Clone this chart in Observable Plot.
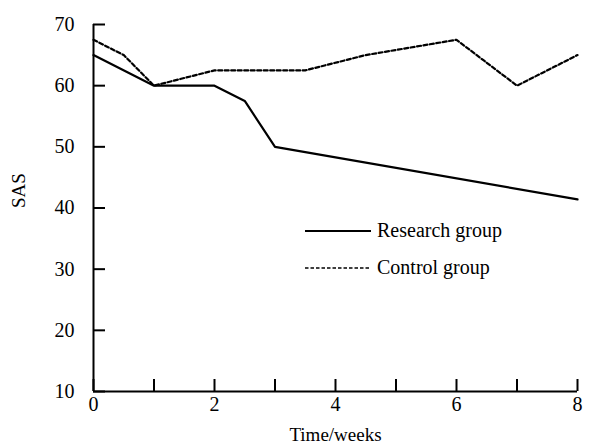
<!DOCTYPE html>
<html>
<head>
<meta charset="utf-8">
<script src="https://cdn.jsdelivr.net/npm/d3@7"></script>
<script src="https://cdn.jsdelivr.net/npm/@observablehq/plot@0.6"></script>
<style>
  html, body { margin: 0; padding: 0; background: #fff; }
  #wrap { position: relative; width: 595px; height: 446px; font-family: "Liberation Serif", serif; }
  #legend { position: absolute; left: 305px; top: 212px; font-size: 20px; color: #000; }
  .row { display: flex; align-items: center; height: 37px; }
  .row svg { width: 66px; height: 10px; margin-right: 6px; }
</style>
</head>
<body>
<div id="wrap">
  <div id="chart"></div>
  <div id="legend"></div>
</div>
<script>
const weeksResearch = [0, 1, 2, 2.5, 3, 8];
const sasResearch   = [65, 60, 60, 57.5, 50, 41.4];
const weeksControl  = [0, 0.5, 1, 2, 3.5, 4.5, 6, 7, 8];
const sasControl    = [67.5, 65, 60, 62.5, 62.5, 65, 67.5, 60, 65];
const xTicks = [0, 1, 2, 3, 4, 5, 6, 7, 8];
const xLabels = [0, 2, 4, 6, 8];
const yTicks = [10, 20, 30, 40, 50, 60, 70];
const seriesNames = ["Research group", "Control group"];

const research = weeksResearch.map((w, i) => ({week: w, sas: sasResearch[i]}));
const control = weeksControl.map((w, i) => ({week: w, sas: sasControl[i]}));

const font = "Liberation Serif";

const chart = Plot.plot({
  width: 595,
  height: 446,
  marginLeft: 93,
  marginRight: 18,
  marginTop: 24,
  marginBottom: 55,
  style: {fontFamily: font, fontSize: "20px", color: "#000", background: "#fff"},
  x: {domain: [0, 8]},
  y: {domain: [10, 70]},
  marks: [
    Plot.axisX(xTicks, {tickSize: -12, strokeWidth: 2, text: null, label: null}),
    Plot.axisX(xLabels, {tickSize: 0, tickPadding: 5, label: null, fontSize: 20, fontFamily: font}),
    Plot.axisY(yTicks, {tickSize: -12, strokeWidth: 2, text: null, label: null}),
    Plot.axisY(yTicks, {tickSize: 0, tickPadding: 19, label: null, fontSize: 20, fontFamily: font}),
    Plot.ruleX([0], {strokeWidth: 2}),
    Plot.ruleY([10], {strokeWidth: 2}),
    Plot.line(research, {x: "week", y: "sas", stroke: "#000", strokeWidth: 2.2}),
    Plot.line(control, {x: "week", y: "sas", stroke: "#000", strokeWidth: 2.2, strokeDasharray: "4,2.5"}),
    Plot.text(["Time/weeks"], {frameAnchor: "bottom", dy: 49, fontSize: 19, fontFamily: font}),
    Plot.text(["SAS"], {frameAnchor: "left", dx: -75, rotate: -90, fontSize: 19, fontFamily: font})
  ]
});
document.getElementById("chart").appendChild(chart);

const legend = document.getElementById("legend");
seriesNames.forEach((name, i) => {
  const row = document.createElement("div");
  row.className = "row";
  const dash = i === 1 ? ' stroke-dasharray="3.5,2"' : '';
  row.innerHTML = `<svg viewBox="0 0 66 10"><line x1="0" y1="5" x2="66" y2="5" stroke="#000" stroke-width="${i === 1 ? 1.5 : 2}"${dash}/></svg><span>${name}</span>`;
  legend.appendChild(row);
});
</script>
</body>
</html>
